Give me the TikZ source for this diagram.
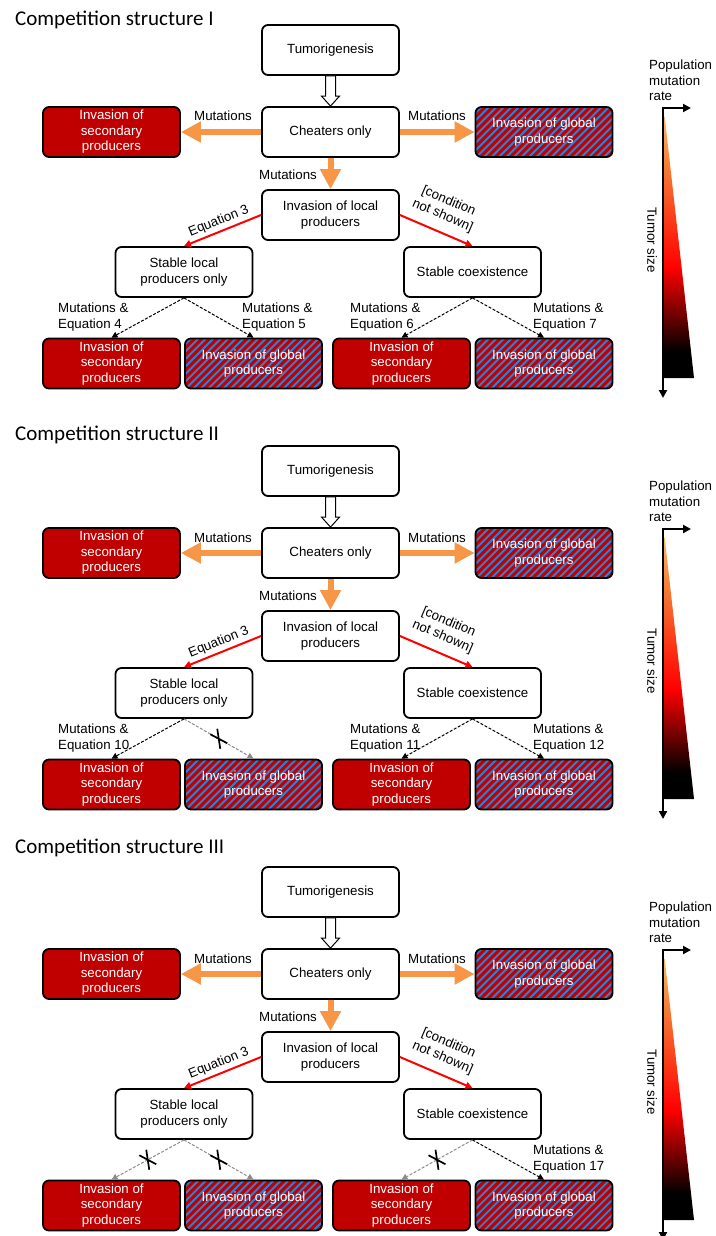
\documentclass[tikz,border=0pt]{standalone}
\usepackage{fontspec}
\setmainfont{Liberation Sans}
\newfontfamily\titlefont{Carlito}
\usetikzlibrary{arrows.meta,calc}
\definecolor{boxred}{HTML}{C00000}
\definecolor{stripeblue}{HTML}{2A82D8}
\definecolor{orng}{HTML}{F79646}
\definecolor{arrred}{HTML}{FF0000}
\definecolor{grayarr}{HTML}{8C8C8C}
\definecolor{gradtop}{RGB}{249,185,115}
\definecolor{gradorange}{RGB}{245,130,55}
\pgfdeclareverticalshading{tumorgrad}{100bp}{color(0bp)=(black); color(30bp)=(black); color(46bp)=(red); color(66bp)=(gradorange); color(75bp)=(gradtop); color(100bp)=(gradtop)}
\tikzset{
  txt/.style={font=\fontsize{13.3}{15.5}\selectfont},
  wbox/.style={txt, draw=black, line width=1.8pt, rounded corners=6pt, fill=white,
    minimum width=137pt, minimum height=50pt, align=center, inner sep=2pt},
  rbox/.style={wbox, fill=boxred, text=white},
  hbox/.style={wbox, fill=none, text=white},
  lbl/.style={txt, inner sep=0pt, align=left},
  orarrow/.style={draw=orng, line width=6pt, -{Triangle[length=20pt,width=20pt]}},
  redarrow/.style={draw=arrred, line width=2pt, -{Triangle[length=7pt,width=7pt]}},
  dasharrow/.style={draw=black, line width=1pt, dash pattern=on 3pt off 1.6pt, -{Triangle[length=6pt,width=6pt]}},
  grayarrow/.style={dasharrow, draw=grayarr},
  axisarrow/.style={draw=black, line width=2pt, {Triangle[length=8pt,width=8pt]}-{Triangle[length=8pt,width=8pt]}},
}
\newcommand\hatched[4]{%
  \begin{scope}
    \clip[rounded corners=6pt] (#2-68.5,#3-25) rectangle (#2+68.5,#3+25);
    \fill[boxred] (#2-70,#3-27) rectangle (#2+70,#3+27);
    \foreach \k in {0,...,26} {\draw[stripeblue, line width=1.8pt] (#2-122+7.5*\k,#3+27) -- ++(54,-54);}
  \end{scope}
  \node[hbox] (#1) at (#2,#3) {#4};
}
\newcommand\xmark[1]{%
  \draw[line width=1.7pt] ($(#1)+(-1.5,-10)$) -- ($(#1)+(1.5,10)$) ($(#1)+(-8.5,-4.5)$) -- ($(#1)+(8.5,4.5)$);
}
\newcommand\drawpanel[3]{%
  \node[anchor=base west, inner sep=0pt, font=\titlefont\fontsize{21}{25}\selectfont] (title#1) at (15,#3) {Competition structure #1};
  \node[wbox] (tum#1) at (330.5,50+#2) {Tumorigenesis};
  \node[wbox] (che#1) at (330.5,132+#2) {Cheaters only};
  \node[rbox] (sec#1) at (111.5,132+#2) {Invasion of\\secondary\\producers};
  \hatched{glo#1}{544}{132+#2}{Invasion of global\\producers}
  \node[wbox] (loc#1) at (330.5,215+#2) {Invasion of local\\producers};
  \node[wbox] (sl#1) at (184,272+#2) {Stable local\\producers only};
  \node[wbox] (sc#1) at (472.5,272+#2) {Stable coexistence};
  \node[rbox] (ba#1) at (111.5,363.5+#2) {Invasion of\\secondary\\producers};
  \hatched{bb#1}{253.5}{363.5+#2}{Invasion of global\\producers}
  \node[rbox] (bc#1) at (401.5,363.5+#2) {Invasion of\\secondary\\producers};
  \hatched{bd#1}{544}{363.5+#2}{Invasion of global\\producers}
  % hollow arrow
  \draw[line width=1pt, fill=white] ($(tum#1.south)+(-5,0)$) -- ($(che#1.north)+(-5,-10)$) -- ($(che#1.north)+(-9,-10)$) -- (che#1.north) -- ($(che#1.north)+(9,-10)$) -- ($(che#1.north)+(5,-10)$) -- ($(tum#1.south)+(5,0)$) -- cycle;
  % orange arrows
  \draw[orarrow] (che#1.west) -- (sec#1.east);
  \draw[orarrow] (che#1.east) -- (glo#1.west);
  \draw[orarrow] (che#1.south) -- (loc#1.north);
  \node[lbl, anchor=base] (mL#1) at (223,121+#2) {Mutations};
  \node[lbl, anchor=base] (mR#1) at (437,121+#2) {Mutations};
  \node[lbl, anchor=base] (mD#1) at (288,179+#2) {Mutations};
  % red arrows
  \draw[redarrow] (loc#1.west) -- node[lbl, sloped, above=3pt] (eq3#1) {Equation 3} (sl#1.north);
  \draw[redarrow] (loc#1.east) -- node[lbl, sloped, above=9pt, align=center] (cns#1) {[condition\\not shown]} (sc#1.north);
  % scale bar
  \coordinate (axo#1) at (663,108+#2);
  \coordinate (axr#1) at (691,108+#2);
  \coordinate (axb#1) at (663,398+#2);
  \shade[shading=tumorgrad] (664.5,115+#2) -- (664.5,378+#2) -- (694,378+#2) -- cycle;
  \draw[axisarrow] (axr#1) -- (axo#1) -- (axb#1);
  \node[lbl, anchor=north west] (pmr#1) at (649,60+#2) {Population\\mutation\\rate};
  \node[lbl, rotate=-90] (ts#1) at (652,240+#2) {Tumor size};
}
\begin{document}
\begin{tikzpicture}[x=1pt,y=-1pt]
\useasboundingbox (0,0) rectangle (715,1236);
\fill[white] (0,0) rectangle (715,1236);
% ---------- Panel I ----------
\drawpanel{I}{0}{26}
\draw[dasharrow] (slI.south) -- (baI.north);
\draw[dasharrow] (slI.south) -- (bbI.north);
\draw[dasharrow] (scI.south) -- (bcI.north);
\draw[dasharrow] (scI.south) -- (bdI.north);
\node[lbl, anchor=north west] (e4) at (58,303) {Mutations \&\\Equation 4};
\node[lbl, anchor=north west] (e5) at (242,303) {Mutations \&\\Equation 5};
\node[lbl, anchor=north west] (e6) at (350,303) {Mutations \&\\Equation 6};
\node[lbl, anchor=north west] (e7) at (533,303) {Mutations \&\\Equation 7};
% ---------- Panel II ----------
\drawpanel{II}{421}{440}
\draw[dasharrow] (slII.south) -- (baII.north);
\draw[grayarrow] (slII.south) -- coordinate[midway] (xmII) (bbII.north);
\draw[dasharrow] (scII.south) -- (bcII.north);
\draw[dasharrow] (scII.south) -- (bdII.north);
\xmark{xmII}
\node[lbl, anchor=north west] (e10) at (58,724) {Mutations \&\\Equation 10};
\node[lbl, anchor=north west] (e11) at (350,724) {Mutations \&\\Equation 11};
\node[lbl, anchor=north west] (e12) at (533,724) {Mutations \&\\Equation 12};
% ---------- Panel III ----------
\drawpanel{III}{842}{853}
\draw[grayarrow] (slIII.south) -- coordinate[midway] (xmA) (baIII.north);
\draw[grayarrow] (slIII.south) -- coordinate[midway] (xmB) (bbIII.north);
\draw[grayarrow] (scIII.south) -- coordinate[midway] (xmC) (bcIII.north);
\draw[dasharrow] (scIII.south) -- (bdIII.north);
\xmark{xmA}
\xmark{xmB}
\xmark{xmC}
\node[lbl, anchor=north west] (e17) at (533,1145) {Mutations \&\\Equation 17};
\end{tikzpicture}
\end{document}
